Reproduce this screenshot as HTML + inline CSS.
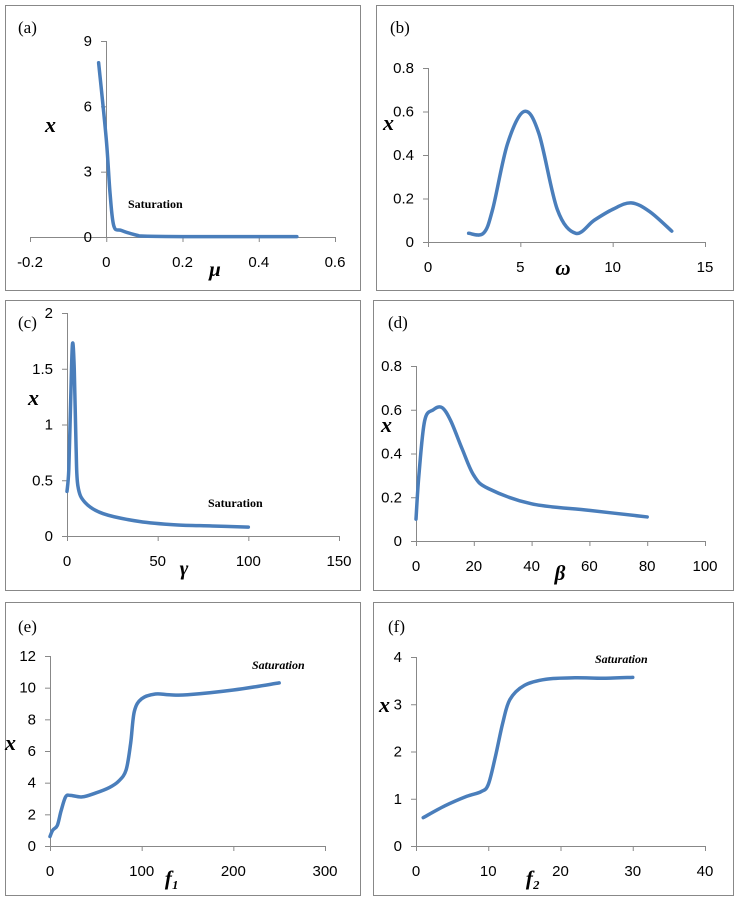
<!DOCTYPE html>
<html><head><meta charset="utf-8"><style>
body{margin:0;background:#fff}
svg{display:block;font-family:"Liberation Sans",sans-serif}
</style></head><body>
<svg id="s" width="739" height="898"></svg>
<script>
const aX=[-0.02,0,0.01,0.02,0.04,0.08,0.1,0.2,0.5];
const aY=[8,4.5,2,0.5,0.3,0.08,0.04,0.02,0.02];
const bX=[2.2,3,3.5,4.3,5.2,6,7,8,9,10,11,12,13.2];
const bY=[0.04,0.04,0.15,0.45,0.6,0.5,0.15,0.04,0.1,0.15,0.18,0.14,0.05];
const cX=[0,1,2,3,4,5,6,10,20,40,60,80,100];
const cY=[0.4,0.6,1.2,1.72,1.5,0.8,0.45,0.3,0.2,0.13,0.1,0.09,0.08];
const dX=[0,1,3,6,9,12,16,20,25,40,60,80];
const dY=[0.1,0.3,0.55,0.6,0.61,0.55,0.42,0.3,0.24,0.17,0.14,0.11];
const eX=[0,3,8,12,17,22,35,50,65,75,83,88,92,100,115,130,150,200,250];
const eY=[0.6,1,1.3,2.2,3.1,3.2,3.1,3.35,3.7,4.1,4.8,6.5,8.5,9.3,9.6,9.55,9.55,9.85,10.3];
const fX=[1,4,7,9,10,11,12,13,15,18,22,26,30];
const fY=[0.6,0.85,1.05,1.15,1.3,1.9,2.6,3.1,3.4,3.53,3.56,3.55,3.57];
const aXT=["-0.2","0","0.2","0.4","0.6"],aYT=["0","3","6","9"];
const bXT=["0","5","10","15"],bYT=["0","0.2","0.4","0.6","0.8"];
const cXT=["0","50","100","150"],cYT=["0","0.5","1","1.5","2"];
const dXT=["0","20","40","60","80","100"],dYT=["0","0.2","0.4","0.6","0.8"];
const eXT=["0","100","200","300"],eYT=["0","2","4","6","8","10","12"];
const fXT=["0","10","20","30","40"],fYT=["0","1","2","3","4"];
const S=document.getElementById('s'),NS='http://www.w3.org/2000/svg';
function el(t,a,p){const e=document.createElementNS(NS,t);for(const k in a)e.setAttribute(k,a[k]);(p||S).appendChild(e);return e;}
function txt(x,y,s,a,p){const e=el('text',Object.assign({x:x,y:y},a),p);e.textContent=s;return e;}
const panels=[
{id:'a',box:[5,5,355,285],px:[30,335],py:[237,41],xr:[-0.2,0.6],yr:[0,9],X:aX,Y:aY,xt:aXT,yt:aYT,xax:106,lab:[18,33],xl:[45,132],xn:'μ',xnp:[215,276],sat:[128,208,false]},
{id:'b',box:[376,5,357,285],px:[428,705],py:[242,68],xr:[0,15],yr:[0,0.8],X:bX,Y:bY,xt:bXT,yt:bYT,xax:428,lab:[390,33],xl:[383,130],xn:'ω',xnp:[563,275]},
{id:'c',box:[5,300,355,290],px:[67,339],py:[536,313],xr:[0,150],yr:[0,2],X:cX,Y:cY,xt:cXT,yt:cYT,xax:67,lab:[18,328],xl:[28,405],xn:'γ',xnp:[184,575],sat:[208,507,false]},
{id:'d',box:[373,300,360,290],px:[416,705],py:[541,366],xr:[0,100],yr:[0,0.8],X:dX,Y:dY,xt:dXT,yt:dYT,xax:416,lab:[388,328],xl:[381,432],xn:'β',xnp:[560,580]},
{id:'e',box:[5,602,355,293],px:[50,325],py:[846,656],xr:[0,300],yr:[0,12],X:eX,Y:eY,xt:eXT,yt:eYT,xax:50,lab:[18,632],xl:[5,750],xn:'f₁',xnp:[172,885],sat:[252,669,true]},
{id:'f',box:[373,602,360,293],px:[416,705],py:[846,657],xr:[0,40],yr:[0,4],X:fX,Y:fY,xt:fXT,yt:fYT,xax:416,lab:[388,632],xl:[379,712],xn:'f₂',xnp:[533,885],sat:[595,663,true]}
];
panels.forEach(P=>{
 const g=el('g',{});
 
 
 const b=P.box;
 el('rect',{x:b[0]+.5,y:b[1]+.5,width:b[2],height:b[3],fill:'none',stroke:'#888'},g);
 const sx=v=>P.px[0]+(v-P.xr[0])/(P.xr[1]-P.xr[0])*(P.px[1]-P.px[0]);
 const sy=v=>P.py[0]+(v-P.yr[0])/(P.yr[1]-P.yr[0])*(P.py[1]-P.py[0]);
 // axes
 el('line',{x1:P.px[0],x2:P.px[1],y1:P.py[0]+.5,y2:P.py[0]+.5,stroke:'#888'},g);
 el('line',{x1:P.xax+.5,x2:P.xax+.5,y1:P.py[0],y2:P.py[1],stroke:'#888'},g);
 P.xt.forEach((t,i)=>{const x=sx(+t);
  el('line',{x1:x+.5,x2:x+.5,y1:P.py[0],y2:P.py[0]+5,stroke:'#888'},g);
  const tt=txt(x,P.py[0]+30,t,{'text-anchor':'middle','font-size':15,fill:'#000'},g);
  
  });
 P.yt.forEach((t,i)=>{const y=sy(+t);
  el('line',{x1:P.xax-5,x2:P.xax,y1:y+.5,y2:y+.5,stroke:'#888'},g);
  const tt=txt(P.xax-14,y+5,t,{'text-anchor':'end','font-size':15,fill:'#000'},g);
  
  });
 const l=txt(P.lab[0],P.lab[1],'('+P.id+')',{'font-family':'Liberation Serif,serif','font-size':17},g);
 
 
 const yl=txt(P.xl[0],P.xl[1],'x',{'font-family':'Liberation Serif,serif','font-size':22,'font-weight':'bold','font-style':'italic'},g);
 
 
 const xl=txt(P.xnp[0],P.xnp[1],P.xn,{'font-family':'Liberation Serif,serif','font-size':21,'font-weight':'bold','font-style':'italic','text-anchor':'middle'},g);
 
 
 if(P.sat){const s=txt(P.sat[0],P.sat[1],'Saturation',{'font-family':'Liberation Serif,serif','font-size':12,'font-weight':'bold','font-style':P.sat[2]?'italic':'normal'},g);
  
  }
 const pts=P.X.map((x,i)=>[sx(x),sy(P.Y[i])]);
 let d='M'+pts[0][0]+','+pts[0][1];
 for(let i=0;i<pts.length-1;i++){const p0=pts[Math.max(0,i-1)],p1=pts[i],p2=pts[i+1],p3=pts[Math.min(pts.length-1,i+2)];
  const t=1/6;
  d+=' C'+(p1[0]+(p2[0]-p0[0])*t)+','+(p1[1]+(p2[1]-p0[1])*t)+' '+(p2[0]-(p3[0]-p1[0])*t)+','+(p2[1]-(p3[1]-p1[1])*t)+' '+p2[0]+','+p2[1];}
 const c=el('path',{d:d,fill:'none',stroke:'#4a7ebb','stroke-width':3.5,'stroke-linecap':'round','stroke-linejoin':'round'},g);
 
 
});
</script>
</body></html>
